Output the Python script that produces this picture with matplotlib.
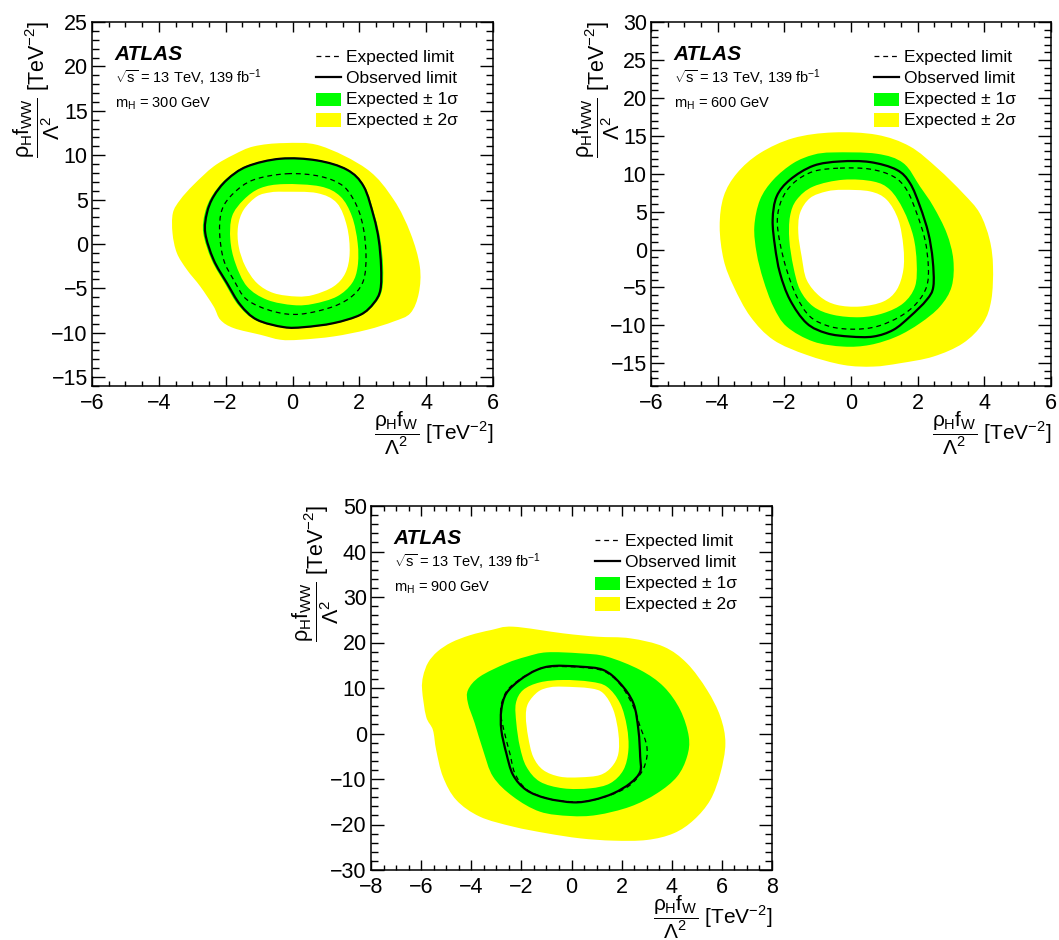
import matplotlib
matplotlib.use('Agg')
import matplotlib.pyplot as plt
from matplotlib.patches import PathPatch, Rectangle
from matplotlib.path import Path
from matplotlib.lines import Line2D
from matplotlib.ticker import MultipleLocator

plt.rcParams['font.family'] = ['Liberation Sans', 'DejaVu Sans']
plt.rcParams['mathtext.fontset'] = 'custom'
plt.rcParams['mathtext.rm'] = 'Liberation Sans'
plt.rcParams['mathtext.it'] = 'Liberation Sans'
plt.rcParams['mathtext.bf'] = 'Liberation Sans:bold'
plt.rcParams['lines.scale_dashes'] = False
plt.rcParams['axes.unicode_minus'] = True

# ---------------- data: m_H = 300 GeV ----------------
M300_OUT2 = [(-0.26, 11.36), (0.83, 11.06), (2.23, 8.42), (3.03, 4.98), (3.53, 1.22), (3.81, -2.53),
             (3.78, -5.54), (3.53, -7.79), (3.03, -8.73), (2.23, -9.67), (1.23, -10.42), (0.23, -10.79),
             (-0.36, -10.79), (-0.96, -10.23), (-1.76, -9.48), (-2.16, -8.54), (-2.36, -7.04),
             (-2.76, -4.79), (-3.16, -2.9), (-3.46, -1.03), (-3.59, 1.2), (-3.58, 3.48), (-3.36, 4.98),
             (-2.96, 6.67), (-2.36, 8.73), (-1.76, 10.05), (-1.16, 10.99)]
M300_OUT1 = [(-0.36, 9.68), (0.73, 9.49), (1.65, 8.42), (2.16, 6.5), (2.47, 3.1), (2.63, 0.47),
             (2.71, -2.53), (2.68, -5.16), (2.47, -6.72), (2.05, -8.05), (1.23, -9.0), (0.34, -9.45),
             (-0.26, -9.45), (-1.1, -8.6), (-1.62, -6.9), (-2.02, -4.45), (-2.42, -1.8), (-2.67, 1.22),
             (-2.62, 3.5), (-2.41, 5.4), (-2.0, 7.28), (-1.38, 8.8)]
M300_IN1 = [(-0.26, 6.74), (0.83, 6.48), (1.43, 5.36), (1.78, 3.1), (1.95, 0.1), (1.95, -2.53),
            (1.78, -4.42), (1.33, -5.92), (0.63, -6.74), (0.03, -6.89), (-0.76, -6.29), (-1.36, -4.79),
            (-1.71, -2.16), (-1.86, 0.47), (-1.81, 3.1), (-1.46, 4.98), (-0.96, 6.29)]
M300_IN2 = [(-0.26, 5.88), (0.73, 5.73), (1.33, 4.6), (1.63, 1.97), (1.71, -1.03), (1.58, -3.29),
            (1.23, -4.79), (0.63, -5.73), (0.13, -5.92), (-0.56, -5.54), (-1.06, -4.42), (-1.41, -2.53),
            (-1.61, -0.29), (-1.63, 1.97), (-1.46, 3.85), (-1.06, 5.36), (-0.66, 5.81)]
M300_OBS = [(-0.36, 9.6), (0.73, 9.41), (1.63, 8.36), (2.13, 6.48), (2.43, 3.1), (2.58, 0.47),
            (2.65, -2.53), (2.63, -5.16), (2.43, -6.67), (2.03, -7.98), (1.23, -8.92), (0.34, -9.37),
            (-0.26, -9.37), (-1.06, -8.54), (-1.56, -6.86), (-1.96, -4.42), (-2.36, -1.79),
            (-2.61, 1.22), (-2.56, 3.48), (-2.36, 5.36), (-1.96, 7.23), (-1.36, 8.73)]
M300_EXP = [(-0.16, 7.91), (0.83, 7.61), (1.53, 6.48), (1.93, 4.23), (2.13, 1.6), (2.2, -1.41),
            (2.13, -4.04), (1.83, -5.73), (1.23, -7.04), (0.23, -7.91), (-0.56, -7.61), (-1.36, -6.29),
            (-1.76, -4.04), (-2.06, -1.79), (-2.18, 1.22), (-2.11, 3.85), (-1.76, 5.73), (-1.16, 7.23)]

# ---------------- data: m_H = 600 GeV ----------------
M600_OUT2 = [(-0.53, 15.44), (0.77, 15.13), (1.77, 13.59), (2.6, 10.7), (3.36, 7.43), (3.86, 4.8),
             (4.16, 1.28), (4.26, -2.24), (4.21, -6.64), (3.96, -9.72), (3.36, -12.36), (2.47, -14.12),
             (1.47, -15.0), (0.67, -15.44), (-0.23, -15.22), (-1.33, -13.9), (-2.33, -11.92),
             (-3.02, -8.84), (-3.52, -4.88), (-3.82, -1.36), (-3.94, 3.04), (-3.82, 7.0), (-3.42, 10.07),
             (-2.73, 12.71), (-1.73, 14.69)]
M600_OUT1 = [(-0.53, 12.8), (0.77, 12.63), (1.57, 11.39), (2.07, 8.31), (2.47, 5.68), (2.87, 2.16),
             (3.07, -1.36), (3.02, -4.88), (2.67, -7.52), (2.07, -9.72), (1.37, -11.48), (0.57, -12.58),
             (-0.23, -12.8), (-1.13, -12.14), (-1.93, -10.16), (-2.33, -7.52), (-2.63, -4.0),
             (-2.83, -0.48), (-2.9, 3.04), (-2.73, 6.56), (-2.33, 9.2), (-1.73, 11.39), (-1.13, 12.49)]
M600_IN1 = [(-0.23, 9.2), (0.67, 8.97), (1.17, 7.87), (1.57, 5.24), (1.87, 1.72), (1.97, -1.8),
            (1.92, -4.88), (1.57, -7.08), (0.97, -8.4), (0.27, -8.93), (-0.53, -8.62), (-1.13, -7.52),
            (-1.53, -5.32), (-1.73, -2.24), (-1.85, 1.28), (-1.83, 4.36), (-1.63, 6.56), (-1.13, 8.31)]
M600_IN2 = [(-0.23, 7.87), (0.57, 7.66), (1.07, 6.56), (1.42, 3.92), (1.57, 0.4), (1.57, -2.68),
            (1.37, -5.32), (0.97, -6.86), (0.27, -7.52), (-0.43, -7.3), (-0.93, -6.2), (-1.33, -4.0),
            (-1.48, -0.92), (-1.58, 2.16), (-1.53, 4.8), (-1.23, 6.78), (-0.73, 7.66)]
M600_OBS = [(-0.33, 11.61), (0.57, 11.53), (1.37, 10.51), (1.77, 8.75), (2.07, 5.68), (2.32, 2.16),
            (2.45, -1.36), (2.47, -4.88), (2.27, -6.64), (1.77, -8.84), (1.27, -10.6), (0.67, -11.48),
            (-0.03, -11.48), (-0.73, -11.04), (-1.33, -9.72), (-1.83, -6.64), (-2.13, -3.12),
            (-2.28, 0.4), (-2.35, 3.92), (-2.23, 7.0), (-1.83, 9.2), (-1.13, 11.04)]
M600_EXP = [(-0.33, 10.73), (0.57, 10.6), (1.27, 9.63), (1.67, 7.87), (1.97, 4.8), (2.22, 1.28),
            (2.32, -2.24), (2.27, -4.88), (1.97, -7.08), (1.47, -8.84), (0.77, -10.16), (0.07, -10.51),
            (-0.63, -10.16), (-1.23, -8.84), (-1.63, -6.2), (-1.93, -2.68), (-2.13, 0.84),
            (-2.21, 3.92), (-2.08, 6.56), (-1.73, 8.75), (-1.13, 10.29)]

# ---------------- data: m_H = 900 GeV ----------------
M900_OUT2 = [(-2.33, 23.48), (-0.33, 22.01), (1.01, 21.28), (2.34, 20.92), (3.68, 19.08), (4.61, 15.42),
             (5.41, 9.56), (5.94, 3.7), (6.14, -2.16), (5.94, -8.75), (5.54, -14.6), (4.88, -19.0),
             (4.08, -21.93), (3.01, -23.4), (1.67, -23.55), (0.34, -23.04), (-0.99, -21.93),
             (-2.33, -20.47), (-3.66, -18.27), (-4.6, -14.6), (-5.13, -9.49), (-5.4, -3.63),
             (-5.53, 0.77), (-5.8, 3.7), (-5.96, 9.56), (-5.92, 12.6), (-5.72, 15.6), (-5.35, 18.0),
             (-4.8, 20.0), (-4.05, 21.6), (-3.2, 22.75)]
M900_OUT1 = [(-0.99, 17.84), (0.34, 17.62), (1.41, 16.89), (2.74, 13.96), (3.68, 10.29), (4.34, 5.17),
             (4.68, -0.7), (4.61, -5.09), (4.21, -9.49), (3.41, -13.15), (2.34, -16.08), (1.01, -17.91),
             (-0.06, -18.13), (-1.26, -17.18), (-2.33, -13.88), (-3.13, -9.49), (-3.53, -3.63),
             (-3.86, 2.23), (-4.13, 6.63), (-4.13, 9.56), (-3.66, 12.49), (-2.6, 15.42), (-1.8, 16.89)]
M900_IN1 = [(-0.33, 11.76), (0.74, 11.39), (1.41, 10.29), (1.94, 6.63), (2.21, 1.5), (2.27, -3.63),
            (2.07, -8.02), (1.54, -10.95), (0.74, -12.05), (-0.33, -12.05), (-1.26, -10.58),
            (-1.8, -7.29), (-2.06, -2.89), (-2.2, 2.23), (-2.22, 6.63), (-1.93, 9.56), (-1.26, 11.24)]
M900_IN2 = [(-0.33, 10.29), (0.74, 9.93), (1.27, 8.83), (1.67, 5.17), (1.87, 0.04), (1.87, -4.36),
            (1.61, -7.29), (1.14, -9.12), (0.34, -9.63), (-0.46, -9.49), (-1.13, -8.02), (-1.53, -5.09),
            (-1.73, -0.7), (-1.82, 3.7), (-1.73, 6.63), (-1.33, 9.2), (-0.86, 10.15)]
M900_OBS = [(-0.73, 14.84), (0.34, 14.69), (1.27, 13.96), (1.94, 11.03), (2.47, 6.63), (2.67, 0.77),
            (2.74, -5.09), (2.74, -8.39), (2.34, -10.95), (1.67, -13.15), (0.87, -14.6), (0.07, -15.13),
            (-0.99, -14.25), (-1.8, -12.42), (-2.33, -9.12), (-2.6, -4.36), (-2.8, 0.77), (-2.8, 5.17),
            (-2.6, 8.83), (-2.06, 11.76), (-1.39, 13.96)]
M900_EXP = [(-0.73, 14.69), (0.34, 14.54), (1.27, 13.74), (1.94, 10.81), (2.47, 5.9), (2.74, 1.5),
            (2.98, -2.16), (3.01, -5.09), (2.81, -8.39), (2.34, -11.32), (1.67, -13.3), (0.74, -14.76),
            (-0.06, -14.98), (-0.99, -14.25), (-1.8, -12.27), (-2.26, -8.75), (-2.46, -4.36),
            (-2.7, 0.77), (-2.83, 5.17), (-2.6, 9.2), (-2.06, 11.9), (-1.39, 13.96)]

MASS_LABELS = ['300', '600', '900']
LEGEND_LABELS = ['Expected limit', 'Observed limit', 'Expected \u00b1 1\u03c3', 'Expected \u00b1 2\u03c3']

YELLOW = '#ffff00'
GREEN = '#00ff00'

fig = plt.figure(figsize=(10.59, 9.4), dpi=100)
W, H = 1059.0, 940.0


def make_axes(left, top, width, height):
    return fig.add_axes([left / W, 1 - (top + height) / H, width / W, height / H])


def smooth_closed_path(pts):
    """Closed cubic Bezier path passing through every given vertex (Catmull-Rom tangents)."""
    n = len(pts)
    verts = [pts[0]]
    codes = [Path.MOVETO]
    for i in range(n):
        p0 = pts[i - 1]
        p1 = pts[i]
        p2 = pts[(i + 1) % n]
        p3 = pts[(i + 2) % n]
        c1 = (p1[0] + (p2[0] - p0[0]) / 6.0, p1[1] + (p2[1] - p0[1]) / 6.0)
        c2 = (p2[0] - (p3[0] - p1[0]) / 6.0, p2[1] - (p3[1] - p1[1]) / 6.0)
        verts += [c1, c2, p2]
        codes += [Path.CURVE4] * 3
    verts.append(pts[0])
    codes.append(Path.CLOSEPOLY)
    return Path(verts, codes)


def draw_panel(ax, out2, out1, in1, in2, obs, exp, mass, xlim, ylim, xmaj, xmin, ymaj, ymin):
    ax.add_patch(PathPatch(smooth_closed_path(out2), facecolor=YELLOW, edgecolor='none', zorder=1))
    ax.add_patch(PathPatch(smooth_closed_path(out1), facecolor=GREEN, edgecolor='none', zorder=2))
    ax.add_patch(PathPatch(smooth_closed_path(in1), facecolor=YELLOW, edgecolor='none', zorder=3))
    ax.add_patch(PathPatch(smooth_closed_path(in2), facecolor='white', edgecolor='none', zorder=4))
    ax.add_patch(PathPatch(smooth_closed_path(exp), facecolor='none', edgecolor='black', lw=0.9,
                           linestyle=(0, (3.5, 2.8)), zorder=5))
    ax.add_patch(PathPatch(smooth_closed_path(obs), facecolor='none', edgecolor='black', lw=1.6,
                           joinstyle='round', zorder=6))
    ax.set_xlim(*xlim)
    ax.set_ylim(*ylim)
    ax.xaxis.set_major_locator(MultipleLocator(xmaj))
    ax.xaxis.set_minor_locator(MultipleLocator(xmin))
    ax.yaxis.set_major_locator(MultipleLocator(ymaj))
    ax.yaxis.set_minor_locator(MultipleLocator(ymin))
    ax.tick_params(which='both', direction='in', top=True, right=True, width=1.0,
                   labelsize=15.5, zorder=10)
    ax.tick_params(axis='x', which='major', length=7.5, pad=5)
    ax.tick_params(axis='x', which='minor', length=3.8)
    ax.tick_params(axis='y', which='major', length=9.4, pad=3)
    ax.tick_params(axis='y', which='minor', length=4.7)
    for s in ax.spines.values():
        s.set_linewidth(1.1)
        s.set_zorder(10)

    tr = ax.transAxes
    ax.text(0.057, 0.896, 'ATLAS', weight='bold', style='italic', size=15, transform=tr, va='baseline')
    ax.text(0.057, 0.8316, r'$\sqrt{s}$ = 13 TeV, 139 fb$^{-1}$', size=10.5, transform=tr, va='baseline')
    ax.text(0.057, 0.7657, r'm$_{\mathrm{H}}$ = ' + mass + ' GeV', size=10.5, transform=tr, va='baseline')

    # legend
    x0, x1, xt = 0.5586, 0.621, 0.633
    ax.add_line(Line2D([x0, x1], [0.9075, 0.9075], transform=tr, color='black', lw=0.9,
                       linestyle=(0, (3.5, 2.8))))
    ax.add_line(Line2D([x0, x1], [0.848, 0.848], transform=tr, color='black', lw=1.6))
    ax.add_patch(Rectangle((x0, 0.768), x1 - x0, 0.038, transform=tr, facecolor=GREEN, edgecolor='none'))
    ax.add_patch(Rectangle((x0, 0.711), x1 - x0, 0.038, transform=tr, facecolor=YELLOW, edgecolor='none'))
    for yb, lab in zip([0.891, 0.8333, 0.7747, 0.717], LEGEND_LABELS):
        ax.text(xt, yb, lab, size=12.5, transform=tr, va='baseline')

    ax.text(1.0, -0.066, r'$\dfrac{\rho_{\mathrm{H}}f_{\mathrm{W}}}{\Lambda^{2}}$ [TeV$^{-2}$]',
            ha='right', va='top', size=15, transform=tr)
    ax.text(-0.137, 1.003, r'$\dfrac{\rho_{\mathrm{H}}f_{\mathrm{WW}}}{\Lambda^{2}}$ [TeV$^{-2}$]',
            ha='center', va='top', rotation=90, size=15.5, transform=tr)


ax1 = make_axes(92, 22, 401, 364)
ax2 = make_axes(651, 22, 400, 364)
ax3 = make_axes(371, 506, 401, 364)

draw_panel(ax1, M300_OUT2, M300_OUT1, M300_IN1, M300_IN2, M300_OBS, M300_EXP, MASS_LABELS[0],
           (-6, 6), (-16, 25), 2, 0.5, 5, 1)
draw_panel(ax2, M600_OUT2, M600_OUT1, M600_IN1, M600_IN2, M600_OBS, M600_EXP, MASS_LABELS[1],
           (-6, 6), (-18, 30), 2, 0.5, 5, 1)
draw_panel(ax3, M900_OUT2, M900_OUT1, M900_IN1, M900_IN2, M900_OBS, M900_EXP, MASS_LABELS[2],
           (-8, 8), (-30, 50), 2, 0.5, 10, 2)

fig.savefig('out.png', dpi=100)
